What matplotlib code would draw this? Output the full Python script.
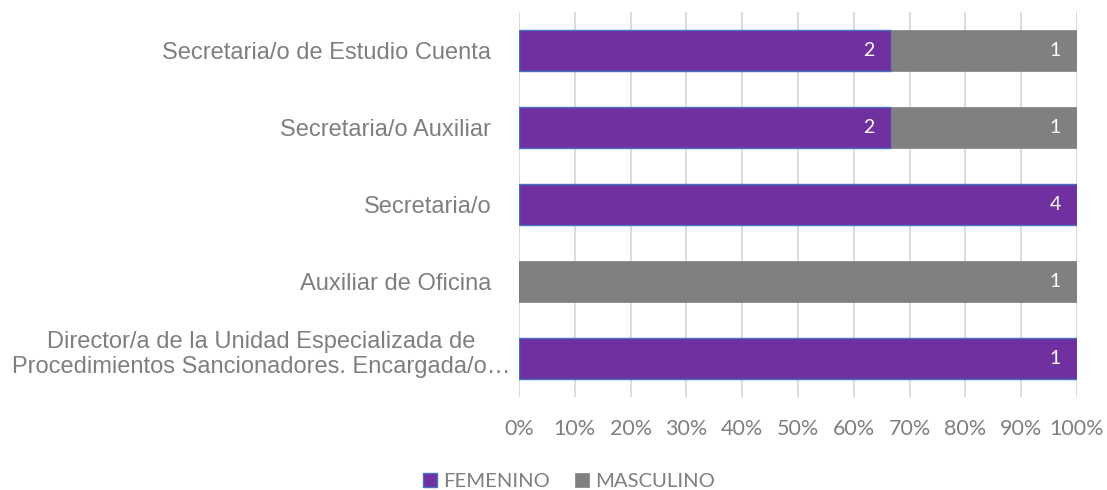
import matplotlib.pyplot as plt
import numpy as np
from matplotlib.ticker import PercentFormatter

cargos = [
    "Director/a de la Unidad Especializada de\nProcedimientos Sancionadores. Encargada/o\u2026",
    "Auxiliar de Oficina",
    "Secretaria/o",
    "Secretaria/o Auxiliar",
    "Secretaria/o de Estudio Cuenta",
]
femenino = [1, 0, 4, 2, 2]
masculino = [0, 1, 0, 1, 1]

morado = "#7030A0"
gris = "#808080"
texto = "#7F7F7F"

fem = np.array(femenino, dtype=float)
mas = np.array(masculino, dtype=float)
total = fem + mas
pf = fem / total
pm = mas / total

fig = plt.figure(figsize=(11.07, 4.9), dpi=100)
ax = fig.add_axes([0.4688, 0.1898, 0.5041, 0.7857])
y = np.arange(len(cargos))

b1 = ax.barh(y, pf, height=0.52, color=morado, edgecolor="#4472C4", linewidth=1.0,
             label="FEMENINO", zorder=3)
b2 = ax.barh(y, pm, left=pf, height=0.52, color=gris, edgecolor=gris, linewidth=0.5,
             label="MASCULINO", zorder=3)

# count labels inside the end of each segment
for bars, vals in ((b1, femenino), (b2, masculino)):
    for rect, v in zip(bars, vals):
        if v == 0:
            continue
        ax.text(rect.get_x() + rect.get_width() - 0.029, rect.get_y() + rect.get_height() / 2,
                str(v), ha="right", va="center", color="white", fontsize=14,
                family="Lato", zorder=4)

ax.set_xlim(0, 1)
ax.set_ylim(-0.5, len(cargos) - 0.5)
ax.set_xticks(np.linspace(0, 1, 11))
ax.xaxis.set_major_formatter(PercentFormatter(1.0, decimals=0))
ax.set_yticks(y)
# the long two-line label sits closer to the bars, drawn separately
ax.set_yticklabels([""] + cargos[1:], fontsize=17, color=texto, family="Liberation Sans")
ax.annotate(cargos[0], xy=(0, y[0]), xycoords=("axes fraction", "data"),
            xytext=(-6.5, 3), textcoords="offset points", ha="right", va="center",
            multialignment="center", linespacing=1.15, fontsize=17, color=texto,
            family="Liberation Sans")
for lbl in ax.get_xticklabels():
    lbl.set_family("Lato")
    lbl.set_fontsize(15.5)
    lbl.set_color(texto)
ax.tick_params(axis="both", length=0)
ax.tick_params(axis="y", pad=20)
ax.tick_params(axis="x", pad=16)
ax.grid(axis="x", color="#D9D9D9", linewidth=1.3, zorder=0)
for s in ax.spines.values():
    s.set_visible(False)

fig.legend(handles=[b1, b2], loc="center", bbox_to_anchor=(0.514, 0.018),
           ncol=2, frameon=False, handlelength=0.7, handleheight=0.7,
           handletextpad=0.3, columnspacing=1.2,
           prop={"family": "Lato", "size": 14.6}, labelcolor=texto)

fig.savefig("out.png", dpi=100)
